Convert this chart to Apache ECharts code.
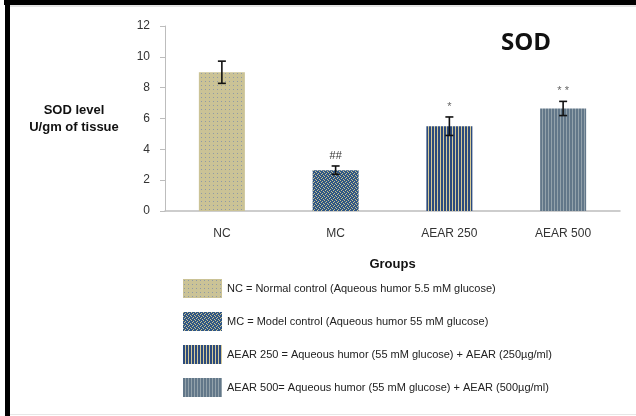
<!DOCTYPE html>
<html>
<head>
<meta charset="utf-8">
<script src="https://cdn.jsdelivr.net/npm/echarts@6/dist/echarts.min.js"></script>
<style>
  html, body { margin: 0; padding: 0; background: #fff; }
  #chart { width: 636px; height: 416px; }
</style>
</head>
<body>
<div id="chart"></div>
<script>
// SOD activity per group (U/gm of tissue), mean ± SD
const groups = ['NC', 'MC', 'AEAR 250', 'AEAR 500'];
const sodMean = [9.0, 2.65, 5.5, 6.65];
const sodSd = [0.72, 0.27, 0.6, 0.46];
const sigMarks = ['', '##', '*', '* *'];
const legendNames = [
  'NC = Normal control (Aqueous humor 5.5 mM glucose)',
  'MC = Model control (Aqueous humor 55 mM glucose)',
  'AEAR 250 = Aqueous humor (55 mM glucose) + AEAR (250µg/ml)',
  'AEAR 500= Aqueous humor (55 mM glucose) + AEAR (500µg/ml)'
];
const yTicks = { min: 0, max: 12, step: 2 };

// Small canvas tiles used as fill patterns for the bars
function tile(w, h, draw) {
  const c = document.createElement('canvas');
  c.width = w; c.height = h;
  const ctx = c.getContext('2d');
  draw(ctx);
  return { image: c, repeat: 'repeat' };
}
const patterns = [
  tile(4, 4, ctx => {            // dotted khaki
    ctx.fillStyle = '#cbc396'; ctx.fillRect(0, 0, 4, 4);
    ctx.fillStyle = '#8f9aa6'; ctx.fillRect(1, 1, 1, 1);
  }),
  tile(4, 4, ctx => {            // blue with light speckles
    ctx.fillStyle = '#2f5686'; ctx.fillRect(0, 0, 4, 4);
    ctx.fillStyle = '#cbc28e';
    ctx.fillRect(0, 0, 1, 1); ctx.fillRect(2, 1, 1, 1);
    ctx.fillRect(1, 2, 1, 1); ctx.fillRect(3, 3, 1, 1);
  }),
  tile(3, 1, ctx => {            // navy / beige vertical stripes
    ctx.fillStyle = '#2c4b7d'; ctx.fillRect(0, 0, 2, 1);
    ctx.fillStyle = '#d6ca97'; ctx.fillRect(2, 0, 1, 1);
  }),
  tile(3, 1, ctx => {            // slate vertical stripes
    ctx.fillStyle = '#627789'; ctx.fillRect(0, 0, 2, 1);
    ctx.fillStyle = '#93a2ab'; ctx.fillRect(2, 0, 1, 1);
  })
];

const barSeries = groups.map((g, k) => ({
  name: legendNames[k],
  type: 'bar',
  barWidth: 46,
  barGap: '-100%',
  itemStyle: { color: patterns[k] },
  data: sodMean.map((v, i) => (i === k ? v : '-'))
}));

const errorSeries = {
  type: 'custom',
  name: 'sd',
  z: 5,
  encode: { x: 0, y: 1 },
  data: sodMean.map((m, i) => [i, m, sodSd[i], sigMarks[i]]),
  renderItem: (params, api) => {
    const i = api.value(0), m = api.value(1), sd = api.value(2);
    const top = api.coord([i, m + sd]);
    const bot = api.coord([i, m - sd]);
    const cap = 4;
    const st = { stroke: '#111', lineWidth: 1.6 };
    const children = [
      { type: 'line', shape: { x1: top[0], y1: top[1], x2: bot[0], y2: bot[1] }, style: st },
      { type: 'line', shape: { x1: top[0] - cap, y1: top[1], x2: top[0] + cap, y2: top[1] }, style: st },
      { type: 'line', shape: { x1: bot[0] - cap, y1: bot[1], x2: bot[0] + cap, y2: bot[1] }, style: st }
    ];
    const mark = sigMarks[i];
    if (mark) {
      children.push({
        type: 'text',
        style: {
          x: top[0], y: top[1] - 10, text: mark,
          textAlign: 'center', textVerticalAlign: 'middle',
          fill: mark === '##' ? '#333' : '#666',
          font: '11px "Liberation Sans", sans-serif'
        }
      });
    }
    return { type: 'group', children };
  }
};

const chart = echarts.init(document.getElementById('chart'), null, { renderer: 'canvas' });
chart.setOption({
  animation: false,
  backgroundColor: '#fff',
  textStyle: { fontFamily: '"Liberation Sans", sans-serif' },
  title: {
    text: 'SOD',
    left: 496, top: 26,
    textStyle: { fontSize: 24, fontWeight: 'bold', color: '#111', fontFamily: '"Open Sans", sans-serif' }
  },
  grid: { left: 165, right: 16, top: 26, bottom: 205, containLabel: false },
  legend: {
    orient: 'vertical',
    left: 178, top: 274,
    itemWidth: 39, itemHeight: 19, itemGap: 14,
    icon: 'rect',
    data: legendNames,
    selectedMode: false,
    textStyle: { fontSize: 11, color: '#222', fontFamily: '"Liberation Sans", sans-serif' }
  },
  xAxis: {
    type: 'category',
    data: groups,
    axisLine: { lineStyle: { color: '#bdbdbd', width: 1.5 } },
    axisTick: { show: false },
    axisLabel: { fontSize: 12, color: '#333', margin: 17 },
    name: 'Groups',
    nameLocation: 'middle',
    nameGap: 47,
    nameTextStyle: { fontSize: 13, fontWeight: 'bold', color: '#111' }
  },
  yAxis: {
    type: 'value',
    min: yTicks.min, max: yTicks.max, interval: yTicks.step,
    axisLine: { show: true, lineStyle: { color: '#bdbdbd' } },
    axisTick: { show: true, length: 5, lineStyle: { color: '#bdbdbd' } },
    splitLine: { show: false },
    axisLabel: { fontSize: 12, color: '#333', margin: 15 },
    name: 'SOD level\nU/gm of tissue',
    nameLocation: 'middle',
    nameRotate: 0,
    nameGap: 91,
    nameTextStyle: { fontSize: 13, fontWeight: 'bold', color: '#111', lineHeight: 17, align: 'center' }
  },
  graphic: [
    { type: 'rect', shape: { x: 4, y: 0, width: 632, height: 5 }, style: { fill: '#000' }, z: 10 },
    { type: 'rect', shape: { x: 5, y: 0, width: 5, height: 416 }, style: { fill: '#000' }, z: 10 },
    { type: 'line', shape: { x1: 10, y1: 6, x2: 636, y2: 6 }, style: { stroke: '#c8c8c8', lineWidth: 1 }, z: 10 },
    { type: 'line', shape: { x1: 10, y1: 414.5, x2: 636, y2: 414.5 }, style: { stroke: '#e6e6e6', lineWidth: 1 }, z: 10 }
  ],
  series: [...barSeries, errorSeries]
});
</script>
</body>
</html>
